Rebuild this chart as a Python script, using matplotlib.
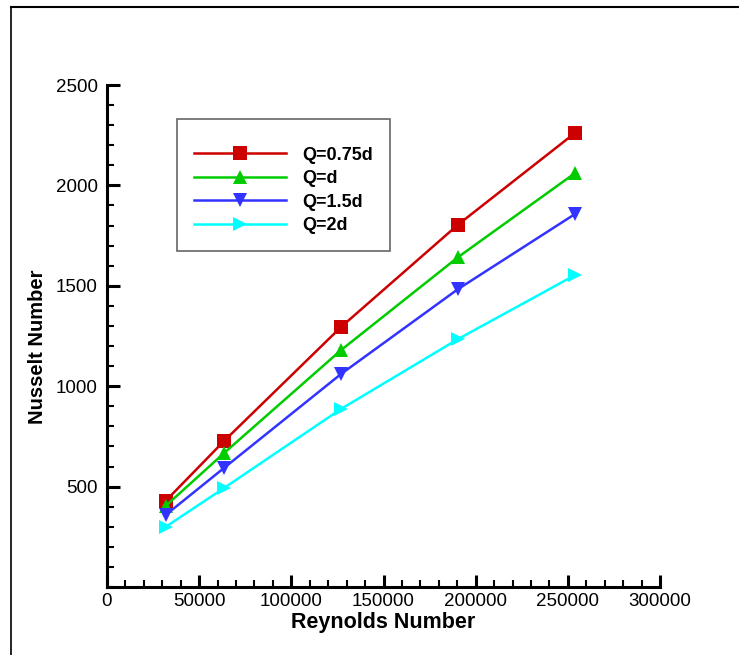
import matplotlib.pyplot as plt
from matplotlib.lines import Line2D
from matplotlib.ticker import MultipleLocator

plt.rcParams['font.family'] = ['Liberation Sans', 'DejaVu Sans']

# Reynolds numbers and Nusselt numbers
reynolds = [31750, 63500, 127000, 190500, 254000]
nu_075d = [428, 727, 1295, 1805, 2262]
nu_1d = [403, 667, 1180, 1643, 2062]
nu_15d = [358, 593, 1061, 1484, 1858]
nu_2d = [299, 493, 887, 1235, 1554]

labels = ['Q=0.75d', 'Q=d', 'Q=1.5d', 'Q=2d']
colors = ['#cc0000', '#00cc00', '#3333ff', '#00ffff']
markers = ['s', '^', 'v', '>']

W, H = 739, 655
fig = plt.figure(figsize=(W / 100, H / 100), dpi=100)
ax = fig.add_axes([107 / W, (H - 587) / H, 553 / W, 502 / H])

for ys, lab, c, m in zip([nu_075d, nu_1d, nu_15d, nu_2d], labels, colors, markers):
    ax.plot(reynolds, ys, color=c, marker=m, markersize=10.5, linewidth=1.8,
            markeredgewidth=0, label=lab)

ax.set_xlim(0, 300000)
ax.set_ylim(0, 2500)
ax.xaxis.set_major_locator(MultipleLocator(50000))
ax.xaxis.set_minor_locator(MultipleLocator(10000))
ax.yaxis.set_major_locator(MultipleLocator(500))
ax.yaxis.set_minor_locator(MultipleLocator(100))
ax.set_yticks([500, 1000, 1500, 2000, 2500])
ax.tick_params(which='both', direction='in', width=1.5, labelsize=13.5)
ax.tick_params(which='major', length=9, width=2.2)
ax.tick_params(which='minor', length=5)
ax.tick_params(axis='y', which='major', pad=6.5)
ax.tick_params(axis='x', which='major', pad=4.5)

for s in ['top', 'right']:
    ax.spines[s].set_visible(False)
for s in ['left', 'bottom']:
    ax.spines[s].set_linewidth(2.2)

ax.set_xlabel('Reynolds Number', fontsize=15.5, fontweight='bold', labelpad=1)
ax.set_ylabel('Nusselt Number', fontsize=14.5, fontweight='bold')
ax.yaxis.set_label_coords(-0.1085, 0.478)

# blank title just to push the entries down like in the original
leg = ax.legend(loc='upper left', bbox_to_anchor=(0.1266, 0.932), borderaxespad=0,
                fancybox=False, edgecolor='#666666', framealpha=1,
                prop={'weight': 'bold', 'size': 13}, handlelength=5.1,
                handletextpad=0.9, labelspacing=0.36, borderpad=0.95,
                title=' ', title_fontsize=2.5)
leg.get_frame().set_linewidth(1.2)

# outer frame lines (left and top)
fig.add_artist(Line2D([11 / W, 11 / W], [0, 1 - 7 / H], color='black', linewidth=1.2))
fig.add_artist(Line2D([11 / W, 1], [1 - 7 / H, 1 - 7 / H], color='black', linewidth=1.5))

fig.savefig('out.png', dpi=100)
